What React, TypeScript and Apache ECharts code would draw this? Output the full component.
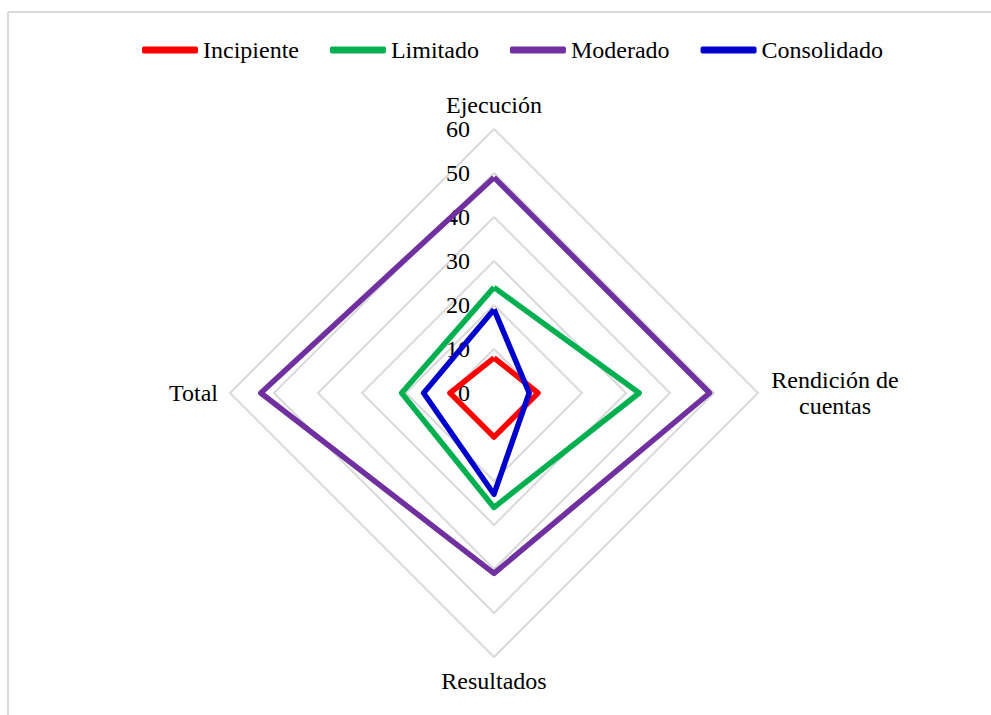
import React, { useEffect, useRef } from "react";
import * as echarts from "echarts";

// Categories in clockwise order, starting at the top
const categories = ["Ejecución", "Rendición de cuentas", "Resultados", "Total"];
const seriesNames = ["Incipiente", "Limitado", "Moderado", "Consolidado"];
const incipiente = [8, 10, 10, 10];
const limitado = [24, 33, 26, 21];
const moderado = [49, 49, 41, 53];
const consolidado = [19, 8, 23, 16];
const axisMax = 60;
const colors = ["#FF0000", "#00B050", "#7030A0", "#0000CC"];

const FONT = "'Liberation Serif', 'Times New Roman', serif";

export default function App() {
  const ref = useRef<HTMLDivElement>(null);

  useEffect(() => {
    if (!ref.current) return;
    const chart = echarts.init(ref.current, undefined, { renderer: "svg" });

    // ECharts radar runs counter-clockwise; reorder to get a clockwise layout
    const order = [0, 3, 2, 1];
    const values = [incipiente, limitado, moderado, consolidado];

    const indicator = order.map((i, k) => {
      const ind: any = { name: categories[i], max: axisMax, min: 0 };
      if (k === 0) ind.axisLabel = { show: true };
      return ind;
    });

    chart.setOption({
      animation: false,
      backgroundColor: "#ffffff",
      textStyle: { fontFamily: FONT },
      legend: {
        top: 38,
        left: 142,
        padding: 0,
        itemWidth: 56,
        itemHeight: 7,
        itemGap: 31,
        icon: "roundRect",
        data: seriesNames,
        textStyle: { fontFamily: FONT, fontSize: 24, color: "#000" },
      },
      graphic: [
        {
          type: "line",
          shape: { x1: 8, y1: 12, x2: 991, y2: 12 },
          style: { stroke: "#d9d9d9", lineWidth: 2 },
          silent: true,
        },
        {
          type: "line",
          shape: { x1: 8, y1: 12, x2: 8, y2: 715 },
          style: { stroke: "#d9d9d9", lineWidth: 2 },
          silent: true,
        },
      ],
      radar: {
        center: [494, 393],
        radius: 264,
        startAngle: 90,
        shape: "polygon",
        splitNumber: 6,
        indicator,
        axisName: {
          color: "#000",
          fontFamily: FONT,
          fontSize: 24,
          formatter: (name: string) =>
            name === "Rendición de cuentas" ? "{c|Rendición de}\n{c|cuentas}" : name,
          rich: {
            c: { width: 130, align: "center", fontFamily: FONT, fontSize: 24, color: "#000", lineHeight: 26 },
          },
        },
        nameGap: 12,
        axisLine: { show: false },
        axisTick: { show: false },
        splitArea: { show: false },
        splitLine: { lineStyle: { color: "#d9d9d9", width: 2 } },
        axisLabel: {
          show: false,
          color: "#000",
          fontFamily: FONT,
          fontSize: 24,
          margin: 24,
        },
      },
      series: [
        {
          type: "radar",
          symbol: "none",
          data: seriesNames.map((name, s) => ({
            name,
            value: order.map((i) => values[s][i]),
            lineStyle: { color: colors[s], width: 5.5 },
            itemStyle: { color: colors[s] },
          })),
        },
      ],
    });

    return () => chart.dispose();
  }, []);

  return (
    <div
      ref={ref}
      style={{ position: "absolute", left: 0, top: 0, width: 991, height: 715 }}
    />
  );
}
